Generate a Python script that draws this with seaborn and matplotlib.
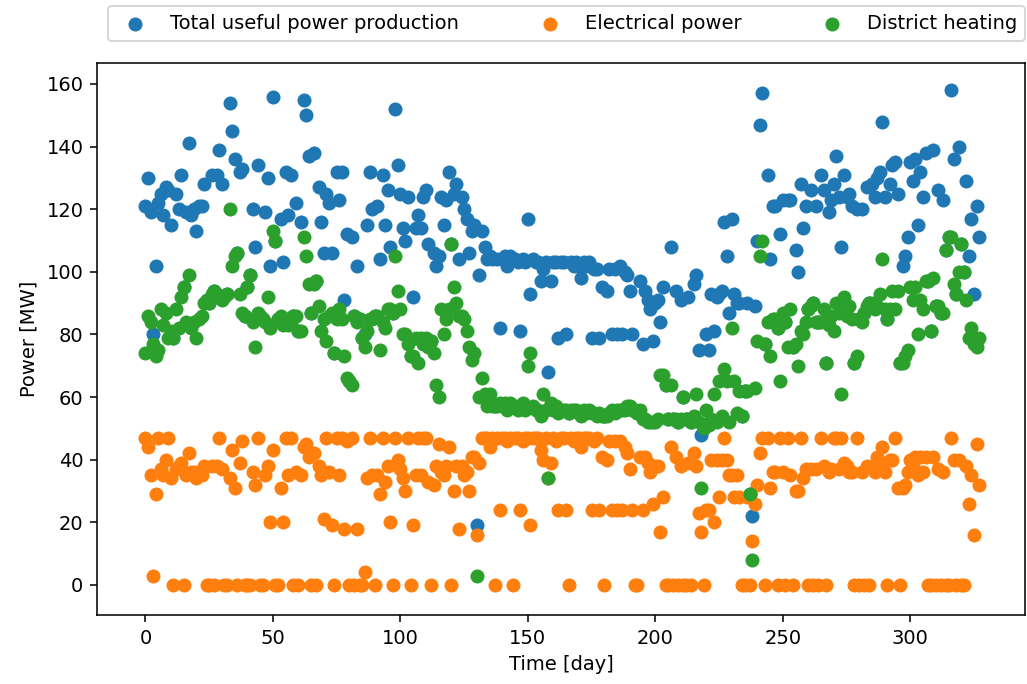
import matplotlib
matplotlib.use("Agg")
import matplotlib.pyplot as plt
import seaborn as sns

days = list(range(328))

electrical = [
    47, 44, 35, 3, 29, 47, 37, 35, 40, 47,
    34, 0, 37, 38, 39, 0, 35, 42, 36, 36,
    34, 36, 35, 38, 0, 0, 38, 0, 38, 47,
    37, 0, 0, 34, 43, 31, 0, 39, 46, 0,
    0, 0, 36, 32, 47, 0, 0, 35, 38, 20,
    43, 0, 0, 31, 20, 47, 35, 47, 0, 36,
    0, 35, 44, 45, 41, 0, 42, 0, 38, 35,
    21, 47, 36, 19, 0, 47, 35, 47, 18, 46,
    0, 47, 0, 18, 0, 0, 4, 34, 47, 35,
    0, 35, 29, 47, 33, 38, 20, 0, 47, 40,
    37, 34, 30, 47, 0, 19, 35, 47, 35, 47,
    47, 33, 0, 32, 38, 45, 36, 35, 38, 44,
    0, 30, 38, 18, 38, 35, 36, 30, 41, 41,
    16, 39, 47, 47, 47, 44, 47, 0, 47, 24,
    47, 47, 46, 47, 0, 47, 47, 24, 46, 47,
    47, 19, 47, 47, 47, 43, 40, 47, 34, 39,
    47, 46, 24, 47, 47, 24, 0, 47, 46, 47,
    47, 44, 47, 47, 47, 24, 46, 47, 24, 41,
    0, 40, 46, 24, 46, 24, 46, 24, 44, 42,
    37, 24, 0, 0, 41, 24, 41, 39, 36, 26,
    38, 38, 17, 28, 0, 0, 44, 0, 41, 0,
    38, 0, 0, 39, 0, 42, 38, 23, 17, 0,
    24, 24, 40, 20, 40, 28, 40, 47, 40, 35,
    35, 28, 35, 28, 0, 0, 28, 0, 14, 26,
    32, 42, 47, 0, 47, 31, 36, 36, 0, 47,
    36, 0, 47, 35, 0, 30, 30, 47, 34, 37,
    0, 37, 0, 37, 0, 47, 38, 0, 36, 37,
    47, 47, 37, 47, 39, 38, 36, 36, 0, 47,
    0, 36, 0, 38, 0, 38, 36, 41, 39, 44,
    36, 0, 40, 40, 47, 31, 0, 31, 32, 36,
    40, 38, 41, 35, 41, 36, 41, 0, 0, 41,
    0, 37, 0, 36, 0, 0, 47, 40, 0, 40,
    0, 0, 38, 26, 35, 16, 45, 32,
]

heating = [
    74, 86, 84, 77, 73, 75, 88, 83, 87, 79,
    81, 79, 88, 82, 92, 95, 84, 99, 82, 84,
    79, 85, 86, 90, 91, 90, 93, 94, 93, 92,
    91, 92, 93, 120, 102, 105, 106, 93, 87, 86,
    95, 99, 84, 76, 87, 86, 85, 84, 92, 82,
    113, 110, 85, 86, 83, 85, 83, 84, 86, 86,
    81, 81, 111, 105, 96, 87, 96, 97, 89, 81,
    85, 78, 86, 87, 74, 85, 88, 85, 73, 66,
    65, 64, 86, 84, 85, 79, 76, 81, 85, 85,
    86, 86, 75, 84, 82, 88, 88, 87, 105, 94,
    88, 80, 80, 77, 73, 73, 79, 71, 79, 77,
    79, 76, 78, 74, 64, 60, 88, 80, 85, 88,
    109, 95, 90, 86, 86, 85, 81, 76, 72, 74,
    3, 60, 66, 61, 57, 61, 57, 57, 57, 58,
    57, 58, 56, 58, 57, 57, 56, 57, 58, 56,
    70, 74, 57, 56, 56, 54, 61, 56, 34, 58,
    56, 57, 55, 56, 56, 56, 55, 56, 56, 56,
    55, 54, 56, 55, 56, 55, 55, 54, 55, 54,
    54, 54, 55, 56, 55, 56, 56, 56, 56, 57,
    57, 56, 56, 55, 56, 53, 53, 52, 52, 52,
    52, 53, 67, 67, 64, 53, 64, 53, 53, 52,
    53, 60, 53, 53, 52, 54, 61, 52, 31, 50,
    56, 51, 53, 61, 52, 65, 54, 69, 65, 52,
    82, 65, 55, 62, 54, 62, 62, 29, 8, 63,
    78, 105, 110, 77, 84, 73, 85, 85, 82, 65,
    87, 84, 76, 88, 76, 77, 70, 81, 80, 84,
    88, 89, 90, 84, 84, 84, 88, 71, 83, 86,
    81, 90, 87, 61, 92, 86, 89, 85, 71, 73,
    85, 84, 87, 89, 90, 90, 88, 89, 93, 104,
    88, 85, 88, 94, 88, 94, 71, 71, 73, 75,
    95, 91, 95, 80, 91, 88, 97, 97, 81, 98,
    89, 89, 87, 87, 107, 111, 111, 96, 93, 100,
    109, 100, 91, 79, 82, 77, 76, 79,
]

total = [
    121, 130, 119, 80, 102, 122, 125, 118, 127, 126,
    115, 79, 125, 120, 131, 95, 119, 141, 118, 120,
    113, 121, 121, 128, 91, 90, 131, 94, 131, 139,
    128, 92, 93, 154, 145, 136, 106, 132, 133, 86,
    95, 99, 120, 108, 134, 86, 85, 119, 130, 102,
    156, 110, 85, 117, 103, 132, 118, 131, 86, 122,
    81, 116, 155, 150, 137, 87, 138, 97, 127, 116,
    106, 125, 122, 106, 74, 132, 123, 132, 91, 112,
    65, 111, 86, 102, 85, 79, 80, 115, 132, 120,
    86, 121, 104, 131, 115, 126, 108, 87, 152, 134,
    125, 114, 110, 124, 73, 92, 114, 118, 114, 124,
    126, 109, 78, 106, 102, 105, 124, 115, 123, 132,
    109, 125, 128, 104, 124, 120, 117, 106, 113, 115,
    19, 99, 113, 108, 104, 105, 104, 57, 104, 82,
    104, 105, 102, 105, 57, 104, 103, 81, 104, 103,
    117, 93, 104, 103, 103, 97, 101, 103, 68, 97,
    103, 103, 79, 103, 103, 80, 55, 103, 102, 103,
    102, 98, 103, 102, 103, 79, 101, 101, 79, 95,
    54, 94, 101, 80, 101, 80, 102, 80, 100, 99,
    94, 80, 56, 55, 97, 77, 94, 91, 88, 78,
    90, 91, 84, 95, 64, 53, 108, 53, 94, 52,
    91, 60, 53, 92, 52, 96, 99, 75, 48, 50,
    80, 75, 93, 81, 92, 93, 94, 116, 105, 87,
    117, 93, 90, 90, 54, 62, 90, 29, 22, 89,
    110, 147, 157, 77, 131, 104, 121, 121, 82, 112,
    123, 84, 123, 123, 76, 107, 100, 128, 114, 121,
    88, 126, 90, 121, 84, 131, 126, 71, 119, 123,
    128, 137, 124, 108, 131, 124, 125, 121, 71, 120,
    85, 120, 87, 127, 90, 128, 124, 130, 132, 148,
    124, 85, 128, 134, 135, 125, 71, 102, 105, 111,
    135, 129, 136, 115, 132, 124, 138, 97, 81, 139,
    89, 126, 87, 123, 107, 111, 158, 136, 93, 140,
    109, 100, 129, 105, 117, 93, 121, 111,
]

labels = ["Total useful power production", "Electrical power", "District heating"]
colors = ["#1f77b4", "#ff7f0e", "#2ca02c"]

DPI = 140
fig = plt.figure(figsize=(1027 / DPI, 684 / DPI), dpi=DPI)
ax = fig.add_axes([97 / 1027, 69 / 684, 928 / 1027, 552 / 684])

for vals, lab, col in zip([total, electrical, heating], labels, colors):
    sns.scatterplot(x=days, y=vals, color=col, s=52, linewidth=0,
                    label=lab, ax=ax)

ax.set_xlim(-19, 345)
ax.set_ylim(-9.6, 166.7)
ax.set_xticks([0, 50, 100, 150, 200, 250, 300])
ax.set_yticks([0, 20, 40, 60, 80, 100, 120, 140, 160])
ax.set_xlabel("Time [day]")
ax.set_ylabel("Power [MW]")

ax.legend(bbox_to_anchor=(0.012, 1.04, 0.988, 0.05), loc="lower left",
          ncol=3, mode="expand", borderaxespad=0.0)

fig.savefig("out.png", dpi=DPI)
